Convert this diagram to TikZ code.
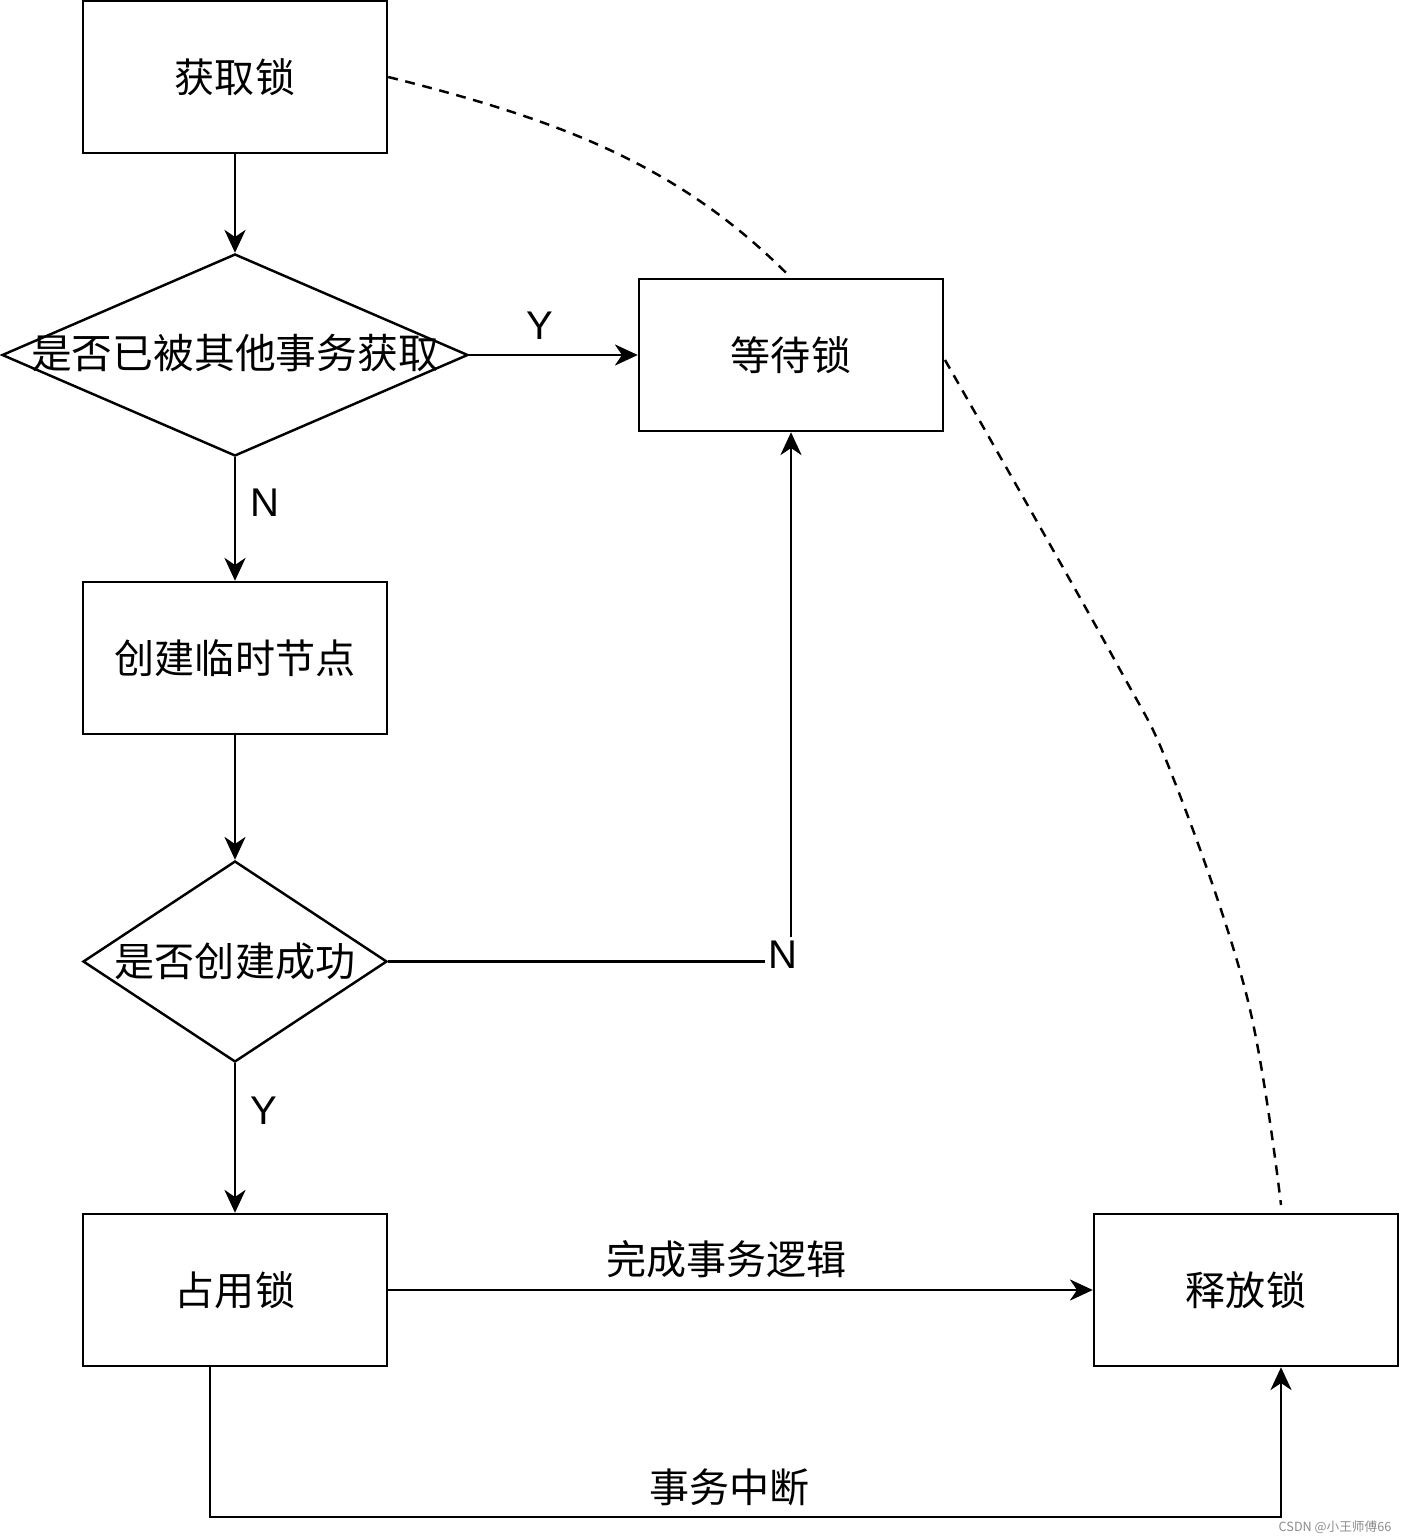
\documentclass[tikz,border=0pt]{standalone}
\usepackage{fontspec}
\setmainfont{Liberation Sans}
\newfontfamily\cjk{Noto Sans CJK SC}
\usetikzlibrary{shapes.geometric,arrows.meta}
\tikzset{
    box/.style={draw, line width=0.7pt, minimum width=3.04cm, minimum height=1.52cm, font=\cjk\fontsize{11.4}{13}\selectfont},
    decision/.style={draw, diamond, line width=0.7pt, inner sep=0pt},
    flow/.style={line width=0.7pt, -{Stealth[length=6.5pt,width=6pt,inset=2pt]}},
    dashline/.style={line width=0.7pt, dash pattern=on 2.8pt off 2.2pt},
    yn/.style={font=\fontsize{11.4}{13}\selectfont, inner sep=1pt},
    cjklbl/.style={font=\cjk\fontsize{11.4}{13}\selectfont, inner sep=1pt},
}
\begin{document}
\begin{tikzpicture}
        \useasboundingbox (0,0) rectangle (14,-15.39);
        \node[box] (lock) at (2.35,-0.77) {获取锁};
        \node[decision, minimum width=4.66cm, minimum height=2.02cm,
            label={[cjklbl, font=\cjk\fontsize{11.6}{13}\selectfont, yshift=0.02cm]center:是否已被其他事务获取}] (ask) at (2.35,-3.55) {};
        \node[box] (wait) at (7.91,-3.55) {等待锁};
        \node[box] (create) at (2.35,-6.58) {创建临时节点};
        \node[decision, minimum width=3.04cm, minimum height=2.01cm,
            label={[cjklbl]center:是否创建成功}] (ok) at (2.35,-9.615) {};
        \node[box] (hold) at (2.35,-12.90) {占用锁};
        \node[box] (release) at (12.46,-12.90) {释放锁};
        \node[font=\cjk\fontsize{3.6}{4}\selectfont, text=black!45] (mark) at (13.35,-15.27) {CSDN @小王师傅66};

        \foreach \a/\b in {lock/ask, create/ok} {
            \draw[flow] (\a.south) -- (\b.north);
        }
        \draw[flow] (ask.east) -- node[yn, pos=0.42, above=3pt] {Y} (wait.west);
        \draw[flow] (ask.south) -- node[yn, pos=0.37, right=3pt] {N} (create.north);
        \draw[flow] (ok.east) -| node[yn, pos=0.5, fill=white, xshift=-0.08cm, yshift=0.07cm] {N} (wait.south);
        \draw[flow] (ok.south) -- node[yn, pos=0.32, right=3pt] {Y} (hold.north);
        \draw[flow] (hold.east) -- node[cjklbl, pos=0.48, above=2pt] {完成事务逻辑} (release.west);
        \draw[flow] ([xshift=-0.25cm]hold.south) -- ++(0,-1.5)
            -| node[cjklbl, pos=0.25, above=2pt, xshift=-0.16cm] {事务中断} ([xshift=0.35cm]release.south);

        % dashed links
        \draw[dashline] (lock.east) .. controls (5.6,-1.2) and (6.8,-1.65) .. (wait.north);
        \draw[dashline] plot[smooth, tension=0.6] coordinates {(9.45,-3.6) (11.13,-6.57) (11.72,-7.75) (12.47,-9.97) (12.81,-12.05)};
\end{tikzpicture}
\end{document}
